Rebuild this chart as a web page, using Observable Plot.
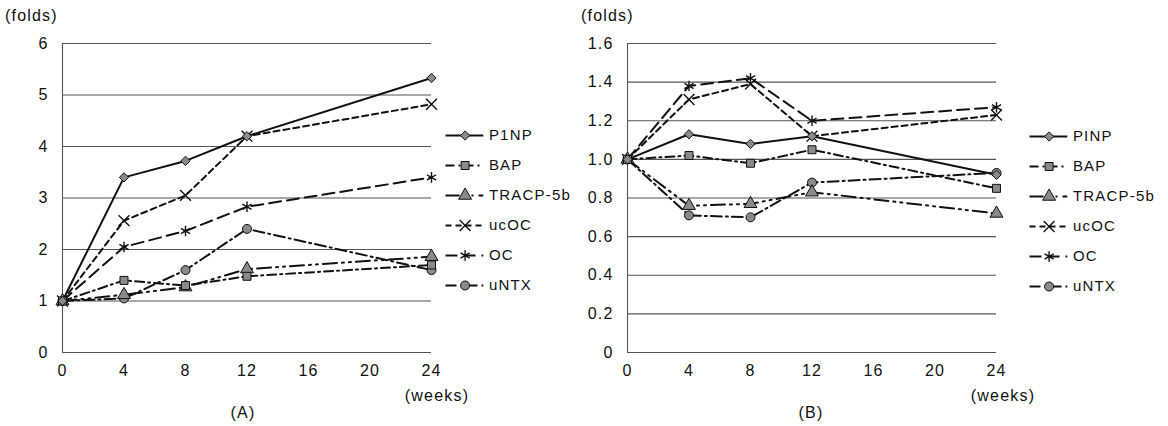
<!DOCTYPE html>
<html>
<head>
<meta charset="utf-8">
<script src="https://cdn.jsdelivr.net/npm/d3@7"></script>
<script src="https://cdn.jsdelivr.net/npm/@observablehq/plot@0.6"></script>
<style>
  body { margin: 0; background: #fff; font-family: "Liberation Sans", Arial, sans-serif; }
  #wrap { position: relative; width: 1168px; height: 426px; overflow: hidden; background: #fff; }
  .abs { position: absolute; }
  .lbl { position: absolute; font-size: 16px; letter-spacing: 1.2px; color: #111; white-space: nowrap; }
</style>
</head>
<body>
<div id="wrap"></div>
<script>
// ---- data ----
const weeks = [0, 4, 8, 12, 24];
const xTicks = [0, 4, 8, 12, 16, 20, 24];
const namesA = ["P1NP", "BAP", "TRACP-5b", "ucOC", "OC", "uNTX"];
const namesB = ["PINP", "BAP", "TRACP-5b", "ucOC", "OC", "uNTX"];
const yTicksA = [0, 1, 2, 3, 4, 5, 6];
const yTicksB = [0, 0.2, 0.4, 0.6, 0.8, 1.0, 1.2, 1.4, 1.6];

const valuesA_P1NP  = [1, 3.4, 3.72, 4.2, 5.33];
const valuesA_BAP   = [1, 1.4, 1.3, 1.48, 1.7];
const valuesA_TRACP = [1, 1.12, 1.27, 1.62, 1.86];
const valuesA_ucOC  = [1, 2.56, 3.05, 4.2, 4.82];
const valuesA_OC    = [1, 2.05, 2.36, 2.83, 3.4];
const valuesA_uNTX  = [1, 1.05, 1.6, 2.4, 1.6];

const valuesB_PINP  = [1, 1.13, 1.08, 1.12, 0.92];
const valuesB_BAP   = [1, 1.02, 0.98, 1.05, 0.85];
const valuesB_TRACP = [1, 0.76, 0.77, 0.83, 0.72];
const valuesB_ucOC  = [1, 1.31, 1.39, 1.12, 1.23];
const valuesB_OC    = [1, 1.38, 1.42, 1.2, 1.27];
const valuesB_uNTX  = [1, 0.71, 0.70, 0.88, 0.93];

// ---- styles ----
const styles = [
  {dash: null,              symbol: "diamond2", fill: "#8a8a8a", r: 4.2},
  {dash: "9,4,2,4",         symbol: "square",   fill: "#8a8a8a", r: 4.5},
  {dash: "14,5,2,5,2,5",    symbol: "triangle", fill: "#8a8a8a", r: 4.8},
  {dash: "6,4",             symbol: "times",    fill: "none",    r: 5},
  {dash: "12,6",            symbol: "asterisk", fill: "none",    r: 5},
  {dash: "11,4,2,4",        symbol: "circle",   fill: "#8a8a8a", r: 4.5}
];

const axisStyle = {fontFamily: "Liberation Sans, Arial, sans-serif", fontSize: "16px", letterSpacing: "1.2px", color: "#111", background: "transparent"};
const legendStyle = {fontFamily: "Liberation Sans, Arial, sans-serif", fontSize: "15px", letterSpacing: "1.2px", color: "#111", background: "transparent"};

function buildRows(names, seriesList) {
  const rows = [];
  names.forEach((n, i) => seriesList[i].forEach((v, j) => rows.push({series: n, idx: i, week: weeks[j], value: v})));
  return rows;
}

const rowsA = buildRows(namesA, [valuesA_P1NP, valuesA_BAP, valuesA_TRACP, valuesA_ucOC, valuesA_OC, valuesA_uNTX]);
const rowsB = buildRows(namesB, [valuesB_PINP, valuesB_BAP, valuesB_TRACP, valuesB_ucOC, valuesB_OC, valuesB_uNTX]);

const wrap = document.getElementById("wrap");

function panel(rows, names, yDomain, yTicks, fmt, ySpacing) {
  const marks = [
    Plot.ruleY(yTicks, {stroke: "#555", strokeWidth: 1.1}),
    Plot.ruleX([0], {stroke: "#555", strokeWidth: 1.1}),
  ];
  names.forEach((n, i) => {
    const st = styles[i];
    const data = rows.filter(d => d.idx === i);
    marks.push(Plot.line(data, {x: "week", y: "value", stroke: "#111", strokeWidth: 2, strokeDasharray: st.dash}));
  });
  names.slice().reverse().forEach((n, k) => {
    const i = names.length - 1 - k;
    const st = styles[i];
    const data = rows.filter(d => d.idx === i);
    marks.push(Plot.dot(data, {x: "week", y: "value", symbol: () => st.symbol, r: st.r,
      fill: st.fill, stroke: "#111", strokeWidth: st.fill === "none" ? 1.4 : 1}));
  });
  marks.push(Plot.axisX({ticks: xTicks, tickSize: 0, tickPadding: 12, label: null, fontSize: 16}));
  marks.push(Plot.axisY({ticks: yTicks, tickSize: 0, tickPadding: 14, label: null, tickFormat: fmt, fontSize: 16, style: {letterSpacing: ySpacing}}));
  return Plot.plot({
    width: 445, height: 426,
    marginLeft: 62, marginRight: 14, marginTop: 43, marginBottom: 74,
    style: axisStyle,
    x: {domain: [0, 24]},
    y: {domain: yDomain},
    symbol: {type: "identity"},
    marks
  });
}

function legend(names) {
  const ld = names.map((n, i) => ({name: n, i}));
  const marks = [];
  ld.forEach(d => {
    const st = styles[d.i];
    marks.push(Plot.link([d], {x1: () => 0, x2: () => 0.27, y1: "name", y2: "name", stroke: "#111", strokeWidth: 2, strokeDasharray: st.dash}));
    marks.push(Plot.dot([d], {x: () => 0.14, y: "name", symbol: () => st.symbol, r: st.r, fill: st.fill, stroke: "#111", strokeWidth: st.fill === "none" ? 1.4 : 1}));
  });
  marks.push(Plot.text(ld, {x: () => 0.31, y: "name", text: "name", textAnchor: "start", fontSize: 15, fill: "#111"}));
  return Plot.plot({
    width: 142, height: 180, margin: 0,
    style: legendStyle,
    x: {domain: [0, 1], range: [2, 142], axis: null},
    y: {type: "point", padding: 0, domain: names, range: [10, 160], axis: null},
    symbol: {type: "identity"},
    marks
  });
}

function place(el, left, top) {
  el.classList.add("abs");
  el.style.left = left + "px";
  el.style.top = top + "px";
  wrap.appendChild(el);
}
function label(text, left, top, anchor) {
  const d = document.createElement("div");
  d.className = "lbl";
  d.textContent = text;
  d.style.left = left + "px";
  d.style.top = top + "px";
  if (anchor === "middle") d.style.transform = "translateX(-50%)";
  wrap.appendChild(d);
}

const fmtA = d => String(d);
const fmtB = d => d === 0 ? "0" : d.toFixed(1);

place(panel(rowsA, namesA, [0, 6], yTicksA, fmtA, "1.2px"), 0, 0);
place(panel(rowsB, namesB, [0, 1.6], yTicksB, fmtB, "3px"), 565, 0);
place(legend(namesA), 443, 125);
place(legend(namesB), 1027, 126);

label("(folds)", 5, 7);
label("(folds)", 581, 7);
label("(weeks)", 437, 387, "middle");
label("(weeks)", 1003, 387, "middle");
label("(A)", 243, 404, "middle");
label("(B)", 811, 404, "middle");
</script>
</body>
</html>
